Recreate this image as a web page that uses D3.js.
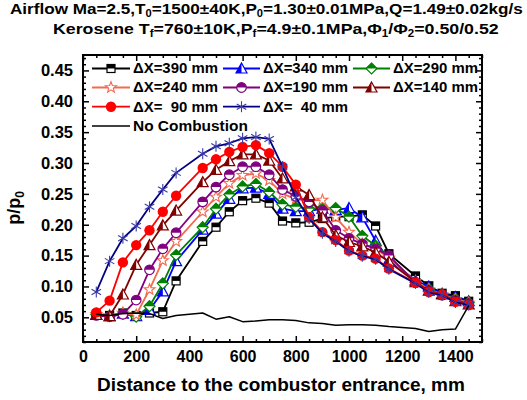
<!DOCTYPE html>
<html><head><meta charset="utf-8">
<script src="https://cdn.jsdelivr.net/npm/d3@7"></script>
<style>
html,body{margin:0;padding:0;background:#fff;}
svg{display:block;}
text{font-family:Arial,"Liberation Sans",sans-serif;font-weight:bold;fill:#000;}
</style></head><body>
<svg id="chart" width="527" height="400"></svg>
<script>
// Measurement stations along the combustor, mm
const distance = [50,100,150,200,250,300,350,450,500,550,600,650,700,750,800,850,900,950,1000,1050,1100,1150,1250,1300,1350,1400,1450];

// Wall pressure ratio p/p0 for each injector spacing ΔX
const dx390 = [0.055,0.053,0.057,0.053,0.057,0.059,0.109,0.173,0.196,0.221,0.239,0.243,0.235,0.206,0.203,0.204,0.210,0.213,0.213,0.216,0.198,0.153,0.117,0.101,0.089,0.085,0.076];
const dx340 = [0.054,0.052,0.056,0.052,0.062,0.092,0.141,0.192,0.218,0.242,0.259,0.260,0.250,0.226,0.222,0.222,0.226,0.224,0.227,0.212,0.174,0.143,0.110,0.100,0.088,0.083,0.076];
const dx290 = [0.055,0.052,0.056,0.051,0.068,0.105,0.151,0.196,0.226,0.249,0.262,0.266,0.253,0.233,0.229,0.226,0.227,0.227,0.213,0.182,0.166,0.148,0.107,0.096,0.087,0.080,0.074];
const dx240 = [0.055,0.053,0.057,0.054,0.095,0.142,0.173,0.221,0.245,0.267,0.280,0.283,0.272,0.250,0.242,0.240,0.240,0.212,0.188,0.169,0.161,0.146,0.108,0.095,0.087,0.079,0.073];
const dx190 = [0.053,0.051,0.055,0.078,0.127,0.161,0.187,0.237,0.261,0.281,0.294,0.294,0.281,0.257,0.246,0.237,0.223,0.191,0.178,0.169,0.161,0.150,0.106,0.093,0.086,0.077,0.072];
const dx140 = [0.054,0.052,0.087,0.135,0.167,0.199,0.223,0.269,0.289,0.303,0.314,0.314,0.304,0.275,0.262,0.248,0.212,0.183,0.172,0.165,0.155,0.140,0.107,0.093,0.087,0.076,0.071];
const dx90  = [0.058,0.077,0.139,0.167,0.191,0.221,0.247,0.292,0.306,0.318,0.326,0.329,0.316,0.294,0.265,0.212,0.188,0.175,0.158,0.150,0.145,0.129,0.106,0.091,0.087,0.075,0.070];
const dx40  = [0.091,0.141,0.178,0.198,0.229,0.257,0.284,0.315,0.327,0.332,0.340,0.342,0.339,0.294,0.244,0.210,0.186,0.173,0.157,0.149,0.144,0.128,0.105,0.090,0.086,0.074,0.070];
const noCombustion = [0.055,0.053,0.056,0.057,0.056,0.048,0.053,0.057,0.047,0.051,0.043,0.044,0.046,0.046,0.045,0.041,0.040,0.037,0.038,0.038,0.037,0.035,0.032,0.027,0.030,0.031,0.069];

const seriesLabels = ["ΔX=390 mm","ΔX=340 mm","ΔX=290 mm","ΔX=240 mm","ΔX=190 mm","ΔX=140 mm","ΔX=  90 mm","ΔX=  40 mm","No Combustion"];
const xTickValues = [0,200,400,600,800,1000,1200,1400];
const yTickValues = [0.05,0.10,0.15,0.20,0.25,0.30,0.35,0.40,0.45];

// Plot styling per series
const styles = [
  {data: dx390, color:"#000000", marker:"halfSquare"},
  {data: dx340, color:"#0000ff", marker:"halfTriangle"},
  {data: dx290, color:"#008000", marker:"halfDiamond"},
  {data: dx240, color:"#f26a50", marker:"openStar"},
  {data: dx190, color:"#800080", marker:"halfCircle"},
  {data: dx140, color:"#800000", marker:"halfTriangle"},
  {data: dx90,  color:"#ff0000", marker:"filledCircle"},
  {data: dx40,  color:"#000080", marker:"asterisk", markerColor:"#3a3aa8"},
  {data: noCombustion, color:"#000000", marker:null}
];

const svg = d3.select("#chart");
const plotLeft = 83, plotRight = 482, plotTop = 55, plotBottom = 342;
const x = d3.scaleLinear().domain([0,1500]).range([plotLeft,plotRight]);
const y = d3.scaleLinear().domain([0.01,0.475]).range([plotBottom,plotTop]);

function fitWidth(sel, target){
  const bb = sel.node().getBBox();
  const s = target / bb.width, x0 = bb.x;
  sel.attr("transform", `translate(${x0},0) scale(${s},1) translate(${-x0},0)`);
}

// Marker painters, centred on the origin of group g
const markers = {
  halfSquare(g,c){
    g.append("rect").attr("x",-4).attr("y",-4).attr("width",8).attr("height",8).attr("fill","#fff").attr("stroke",c).attr("stroke-width",1.2);
    g.append("rect").attr("x",-4).attr("y",-4).attr("width",8).attr("height",4).attr("fill",c);
  },
  halfTriangle(g,c){
    g.append("polygon").attr("points","0,-5.5 5.5,4.5 -5.5,4.5").attr("fill","#fff").attr("stroke",c).attr("stroke-width",1.2);
    g.append("polygon").attr("points","0,-5.5 0,4.5 -5.5,4.5").attr("fill",c);
  },
  halfDiamond(g,c){
    g.append("polygon").attr("points","0,-5.5 5.5,0 0,5.5 -5.5,0").attr("fill","#fff").attr("stroke",c).attr("stroke-width",1.2);
    g.append("polygon").attr("points","0,-5.5 5.5,0 -5.5,0").attr("fill",c);
  },
  openStar(g,c){
    const pts = d3.range(10).map(i=>{
      const r = i%2 ? 2.4 : 5.8, a = -Math.PI/2 + i*Math.PI/5;
      return [r*Math.cos(a), r*Math.sin(a)];
    });
    g.append("polygon").attr("points",pts.map(p=>p.join(",")).join(" ")).attr("fill","#fff").attr("stroke",c).attr("stroke-width",1.1);
  },
  halfCircle(g,c){
    g.append("circle").attr("r",4.8).attr("fill","#fff").attr("stroke",c).attr("stroke-width",1.2);
    g.append("path").attr("d","M-4.8,0 A4.8,4.8 0 0 1 4.8,0 Z").attr("fill",c);
  },
  filledCircle(g,c){
    g.append("circle").attr("r",5.2).attr("fill",c);
  },
  asterisk(g,c){
    const r = 5.5;
    [90,30,-30].forEach(d=>{
      const a = d*Math.PI/180;
      g.append("line").attr("x1",-r*Math.cos(a)).attr("y1",-r*Math.sin(a)).attr("x2",r*Math.cos(a)).attr("y2",r*Math.sin(a))
        .attr("stroke",c).attr("stroke-width",1.1);
    });
  }
};

// Axes: ticks drawn inward on all four sides
function tickAxis(axisFn, scale, values, size, fmt){
  return axisFn(scale).tickValues(values).tickSize(size).tickPadding(fmt ? 9 : 0)
    .tickFormat(fmt ? fmt : () => "");
}
const xMinor = d3.range(0,1501,50).filter(v=>v%200!==0);
const yMinor = d3.range(1,48).map(i=>i/100).filter(v=>Math.round(v*100)%5!==0);

const gx = svg.append("g").attr("transform",`translate(0,${plotBottom})`);
gx.call(tickAxis(d3.axisBottom, x, xTickValues, -6, d3.format("d")));
gx.append("g").call(tickAxis(d3.axisBottom, x, xMinor, -3));
const gxt = svg.append("g").attr("transform",`translate(0,${plotTop})`);
gxt.call(tickAxis(d3.axisTop, x, xTickValues, -6));
gxt.append("g").call(tickAxis(d3.axisTop, x, xMinor, -3));

const gy = svg.append("g").attr("transform",`translate(${plotLeft},0)`);
gy.call(tickAxis(d3.axisLeft, y, yTickValues, -6, d3.format(".2f")));
gy.append("g").call(tickAxis(d3.axisLeft, y, yMinor, -3));
const gyr = svg.append("g").attr("transform",`translate(${plotRight},0)`);
gyr.call(tickAxis(d3.axisRight, y, yTickValues, -6));
gyr.append("g").call(tickAxis(d3.axisRight, y, yMinor, -3));

svg.selectAll(".domain").remove();
svg.selectAll(".tick line").attr("stroke","#000").attr("stroke-width",1.5);
svg.selectAll(".tick text").attr("fill","#000").attr("font-family","Arial,'Liberation Sans',sans-serif").attr("font-weight","bold");
gx.selectAll(".tick text").attr("font-size",16);
gy.selectAll(".tick text").attr("font-size",16.5).attr("dx",-1);

// Data lines and markers
const plot = svg.append("g");
const line = d3.line().x((d,i)=>x(distance[i])).y(d=>y(d));
styles.forEach(s=>{
  plot.append("path").datum(s.data).attr("d",line).attr("fill","none")
    .attr("stroke",s.color).attr("stroke-width", s.marker ? 1.8 : 1.5).attr("stroke-linejoin","round");
  if(s.marker){
    s.data.forEach((v,i)=>{
      const g = plot.append("g").attr("transform",`translate(${x(distance[i])},${y(v)})`);
      markers[s.marker](g, s.markerColor || s.color);
    });
  }
});

// Frame
svg.append("rect").attr("x",plotLeft).attr("y",plotTop).attr("width",plotRight-plotLeft).attr("height",plotBottom-plotTop)
  .attr("fill","none").attr("stroke","#000").attr("stroke-width",2);

// Legend
const legRows = [68.5, 87.5, 106.7, 126];
const legCols = [{l:92,r:130,t:133}, {l:223,r:260,t:263}, {l:353,r:390,t:393}];
const leg = svg.append("g");
seriesLabels.forEach((lab,i)=>{
  const s = styles[i];
  let row, col;
  if(i<8){ row = Math.floor(i/3); col = legCols[i%3]; } else { row = 3; col = legCols[0]; }
  const yy = legRows[row];
  leg.append("line").attr("x1",col.l).attr("x2",col.r).attr("y1",yy).attr("y2",yy)
    .attr("stroke",s.color).attr("stroke-width",s.marker?1.8:1.5);
  if(s.marker){
    const g = leg.append("g").attr("transform",`translate(${(col.l+col.r)/2},${yy})`);
    markers[s.marker](g, s.markerColor || s.color);
  }
  const t = leg.append("text").attr("x",col.t).attr("y",yy+5).attr("font-size",14.5)
    .style("white-space","pre").text(lab);
  fitWidth(t, i<8 ? 85 : 115);
});

// Titles with subscripts
function richText(parent, xx, yy, size, parts){
  const t = parent.append("text").attr("x",xx).attr("y",yy).attr("font-size",size);
  let lowered = false;
  parts.forEach(p=>{
    if(typeof p === "string"){
      t.append("tspan").attr("dy", lowered ? -3 : 0).text(p);
      lowered = false;
    } else {
      t.append("tspan").attr("font-size",size*0.65).attr("dy",3).text(p.sub);
      lowered = true;
    }
  });
  return t;
}
const t1 = richText(svg, 10, 14.5, 15.5, ["Airflow Ma=2.5,T",{sub:"0"},"=1500±40K,P",{sub:"0"},"=1.30±0.01MPa,Q=1.49±0.02kg/s"]);
fitWidth(t1, 513);
const t2 = richText(svg, 53, 34, 15.5, ["Kerosene T",{sub:"f"},"=760±10K,P",{sub:"f"},"=4.9±0.1MPa,Φ",{sub:"1"},"/Φ",{sub:"2"},"=0.50/0.52"]);
fitWidth(t2, 446);

// Axis titles
const xt = svg.append("text").attr("x",97).attr("y",391).attr("font-size",18).text("Distance to the combustor entrance, mm");
fitWidth(xt, 368);
const yt = svg.append("text").attr("transform","translate(20,208) rotate(-90)").attr("text-anchor","middle").attr("font-size",18);
yt.append("tspan").text("p/p");
yt.append("tspan").attr("font-size",12).attr("dy",4).text("0");
</script>
</body></html>
